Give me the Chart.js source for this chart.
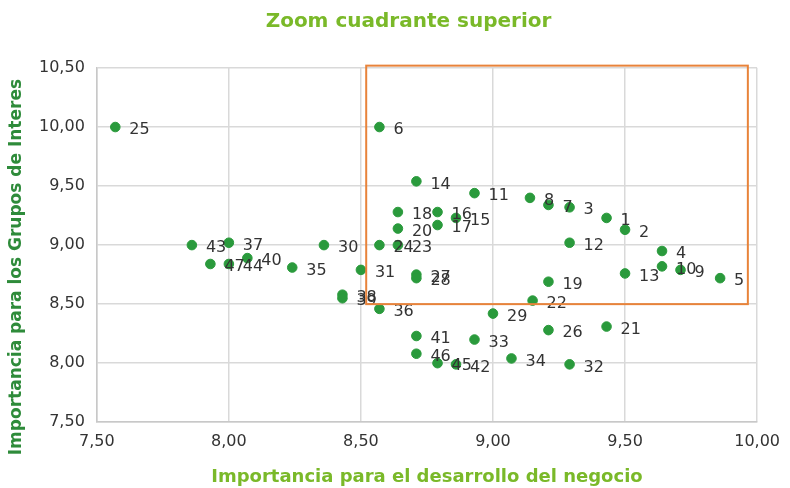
<!DOCTYPE html>
<html>
<head>
<meta charset="utf-8">
<script src="https://cdn.jsdelivr.net/npm/chart.js@4.4.0/dist/chart.umd.min.js"></script>
<style>
html,body{margin:0;padding:0;background:#fff;}
#wrap{width:790px;height:488px;position:relative;}
</style>
</head>
<body>
<div id="wrap"><canvas id="c" width="790" height="488"></canvas></div>
<script>
const pointIds = [1,2,3,4,5,6,7,8,9,10,11,12,13,14,15,16,17,18,19,20,21,22,23,24,25,26,27,28,29,30,31,32,33,34,35,36,37,38,39,40,41,42,43,44,45,46,47];
const xValues = [9.43,9.50,9.29,9.64,9.86,8.57,9.21,9.14,9.71,9.64,8.93,9.29,9.50,8.71,8.86,8.79,8.79,8.64,9.21,8.64,9.43,9.15,8.64,8.57,7.57,9.21,8.71,8.71,9.00,8.36,8.50,9.29,8.93,9.07,8.24,8.57,8.00,8.43,8.43,8.07,8.71,8.86,7.86,8.00,8.79,8.71,7.93];
const yValues = [9.23,9.13,9.32,8.95,8.72,10.00,9.34,9.40,8.79,8.82,9.44,9.02,8.76,9.54,9.23,9.28,9.17,9.28,8.69,9.14,8.31,8.53,9.00,9.00,10.00,8.28,8.75,8.72,8.42,9.00,8.79,7.99,8.20,8.04,8.81,8.46,9.02,8.58,8.55,8.89,8.23,7.99,9.00,8.84,8.00,8.08,8.84];
const xTicks = [7.5,8.0,8.5,9.0,9.5,10.0];
const yTicks = [7.5,8.0,8.5,9.0,9.5,10.0,10.5];
const zoomBoxX = [8.52, 9.965];
const zoomBoxY = [8.50, 10.52];
const yTitle = 'Importancia para los Grupos de Interes';

const points = pointIds.map((id,i)=>({x:xValues[i], y:yValues[i], id:id}));
const fmt = v => Number(v).toFixed(2).replace('.', ',');
const FONT = '"DejaVu Sans", sans-serif';

const overlay = {
  id:'overlay',
  afterDatasetsDraw(chart){
    const ctx = chart.ctx, xs = chart.scales.x, ys = chart.scales.y;
    ctx.save();
    ctx.font = '16px ' + FONT;
    ctx.fillStyle = '#333333';
    ctx.textBaseline = 'middle';
    ctx.textAlign = 'left';
    points.forEach(p=>{
      ctx.fillText(String(p.id), xs.getPixelForValue(p.x)+14, ys.getPixelForValue(p.y)+3);
    });
    const x1 = xs.getPixelForValue(zoomBoxX[0]), x2 = xs.getPixelForValue(zoomBoxX[1]);
    const y1 = ys.getPixelForValue(zoomBoxY[1]), y2 = ys.getPixelForValue(zoomBoxY[0]);
    ctx.strokeStyle = '#e8833a';
    ctx.lineWidth = 2;
    ctx.strokeRect(x1, y1, x2-x1, y2-y1);
    ctx.restore();
  },
  afterDraw(chart){
    const ctx = chart.ctx, ca = chart.chartArea;
    ctx.save();
    ctx.translate(17, (ca.top + ca.bottom)/2 + 22);
    ctx.rotate(-Math.PI/2);
    ctx.font = 'bold 17px ' + FONT;
    ctx.fillStyle = '#2e8b3a';
    ctx.textAlign = 'center';
    ctx.textBaseline = 'middle';
    ctx.fillText(yTitle, 0, 0);
    ctx.restore();
  }
};

new Chart(document.getElementById('c'), {
  type:'scatter',
  data:{datasets:[{data:points, backgroundColor:'#2a9a3c', borderColor:'#2a9a3c', pointRadius:4.8, pointHoverRadius:4.8}]},
  options:{
    responsive:false, animation:false,
    layout:{padding:{left:27, right:0, top:0, bottom:0}},
    plugins:{
      legend:{display:false}, tooltip:{enabled:false},
      title:{display:true, text:'Zoom cuadrante superior', color:'#7ab929', font:{family:FONT, size:20, weight:'bold'}, padding:{top:10, bottom:34}}
    },
    scales:{
      x:{type:'linear', min:7.5, max:10,
        afterBuildTicks(s){ s.ticks = xTicks.map(v=>({value:v})); },
        ticks:{callback:v=>fmt(v), color:'#333', font:{family:FONT, size:16}, padding:10},
        grid:{color:'#d9d9d9', lineWidth:1.5, drawTicks:false},
        border:{color:'#c8c8c8', width:1.5},
        title:{display:true, text:'Importancia para el desarrollo del negocio', color:'#7ab929', font:{family:FONT, size:18, weight:'bold'}, padding:{top:5, bottom:0}}
      },
      y:{type:'linear', min:7.5, max:10.5,
        afterBuildTicks(s){ s.ticks = yTicks.map(v=>({value:v})); },
        ticks:{callback:v=>fmt(v), color:'#333', font:{family:FONT, size:16}, padding:12},
        grid:{color:'#d9d9d9', lineWidth:1.5, drawTicks:false},
        border:{color:'#c8c8c8', width:1.5},
        title:{display:false}
      }
    }
  },
  plugins:[overlay]
});
</script>
</body>
</html>
